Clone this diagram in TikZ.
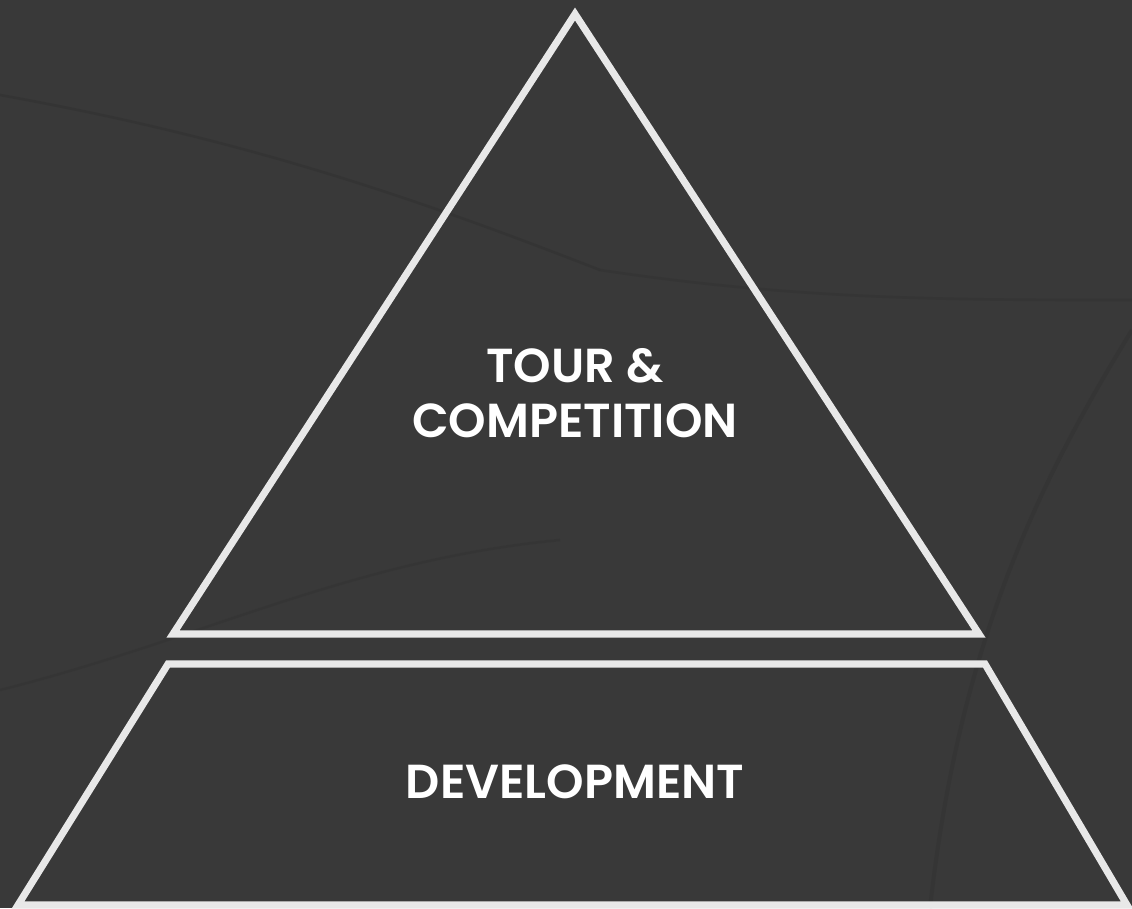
\documentclass[tikz,border=0pt]{standalone}
\usepackage{fontspec}
\setmainfont{Poppins}[BoldFont={Poppins SemiBold}]
\definecolor{bg}{HTML}{393939}
\definecolor{bgdark}{HTML}{2F2F2F}
\definecolor{linec}{HTML}{E8E8E8}
\begin{document}
\begin{tikzpicture}[x=0.75pt,y=-0.75pt,
  outline/.style={draw=linec,line width=5.3pt,line join=miter},
  label/.style={text=white,font=\bfseries\fontsize{35.8}{41.5}\selectfont,align=center,inner sep=0pt}]
\fill[bg] (0,0) rectangle (1132,908);
\useasboundingbox (0,0) rectangle (1132,908);
% faint texture cracks
\draw[bgdark,line width=2pt,opacity=0.45] (0,95) .. controls (250,140) and (420,200) .. (600,270);
\draw[bgdark,line width=2pt,opacity=0.35] (600,270) .. controls (800,300) and (950,300) .. (1132,300);
\draw[bgdark,line width=3pt,opacity=0.4] (1132,330) .. controls (1040,480) and (960,640) .. (930,908);
\draw[bgdark,line width=2pt,opacity=0.3] (0,690) .. controls (200,640) and (350,560) .. (560,540);
% shapes
\coordinate (apex) at (575,14);
\coordinate (tl) at (173,634);
\coordinate (tr) at (979,634);
\coordinate (ul) at (168,664);
\coordinate (ur) at (985,664);
\coordinate (ll) at (18,905);
\coordinate (lr) at (1127,905);
\draw[outline] (apex) -- (tr) -- (tl) -- cycle;
\draw[outline] (ul) -- (ur) -- (lr) -- (ll) -- cycle;
\node[label] (top) at (575,393) {TOUR \&\\COMPETITION};
\node[label] (dev) at (575,782) {DEVELOPMENT};
\end{tikzpicture}
\end{document}
